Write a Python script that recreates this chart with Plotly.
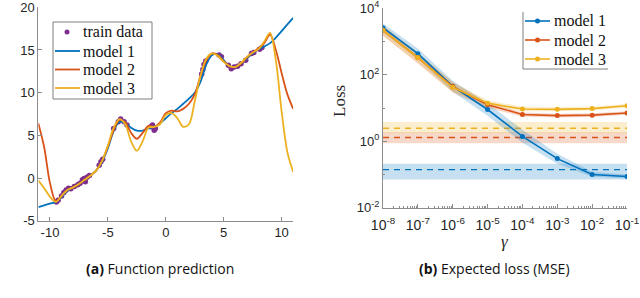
import plotly.graph_objects as go

# ---------------- Panel (a): function prediction ----------------
x_grid = [-11, -10.5, -10, -9.5, -9, -8.5, -8, -7.5, -7, -6.5, -6, -5.5, -5, -4.5, -4,
          -3.5, -3, -2.5, -2, -1.5, -1, -0.5, 0, 0.5, 1, 1.5, 2, 2.5, 3, 3.5, 4, 4.5,
          5, 5.5, 6, 6.5, 7, 7.5, 8, 8.5, 9, 9.5, 10, 10.5, 11]
model1_y = [-3.4, -3.2, -3.0, -2.8, -2.2, -1.5, -1.1, -0.7, -0.2, 0.3, 0.9, 1.9, 3.5, 5.5, 6.6,
            6.4, 5.9, 5.55, 5.55, 5.8, 6.0, 6.4, 7.0, 7.6, 8.1, 8.7, 9.3, 10.0, 11.3, 13.3, 14.4, 14.5,
            13.8, 13.1, 13.0, 13.4, 14.0, 14.6, 15.1, 15.4, 15.8, 16.45, 17.2, 18.0, 18.76]
model2_y = [6.4, 3.6, -0.6, -2.7, -2.1, -1.4, -1.1, -0.7, -0.2, 0.3, 0.9, 2.0, 3.7, 5.6, 6.8,
            6.5, 5.3, 4.6, 5.3, 6.1, 6.0, 6.5, 7.6, 7.9, 7.8, 8.1, 8.7, 9.8, 12.0, 13.8, 14.6, 14.4,
            13.7, 13.1, 13.0, 13.4, 14.1, 14.7, 15.2, 15.8, 16.8, 15.0, 12.3, 9.8, 8.1]
model3_y = [-0.3, -1.2, -2.2, -2.8, -2.1, -1.4, -1.1, -0.7, -0.2, 0.3, 0.9, 2.0, 3.8, 5.9, 6.9,
            6.3, 4.3, 3.2, 4.3, 5.9, 6.0, 6.3, 7.4, 7.6, 7.0, 6.0, 6.3, 9.0, 12.0, 14.0, 14.6, 14.3,
            13.6, 13.1, 13.0, 13.5, 14.2, 14.7, 15.1, 16.0, 17.0, 13.8, 7.8, 3.0, 0.7]
train_x = [-9.45, -9.3, -9.0, -8.8, -8.6, -8.4, -8.2, -7.9, -7.6, -7.4, -7.2, -7.05, -6.95, -6.8,
           -6.6, -5.75, -5.6, -5.45, -4.5, -4.1, -3.9, -3.6, -3.35, -1.3, -1.15, -1.0, -0.9,
           3.1, 3.2, 3.3, 3.45, 4.6, 4.8, 5.4, 5.65, 5.9, 6.2, 6.5, 6.9, 7.4, 7.6, 8.1, 8.3]
train_y = [-2.8, -2.6, -2.1, -1.7, -1.4, -1.2, -1.25, -1.0, -0.8, -0.6, -0.2, -0.05, -0.45, 0.1,
           0.3, 1.5, 1.9, 2.2, 5.8, 6.6, 6.9, 6.6, 6.2, 6.0, 6.2, 5.6, 5.8,
           12.2, 12.7, 13.3, 13.7, 14.4, 14.2, 13.2, 12.8, 13.0, 13.1, 13.4, 13.8, 14.6, 14.7, 15.1, 15.3]
xa_ticks = [-10, -5, 0, 5, 10]
ya_ticks = [-5, 0, 5, 10, 15, 20]

# ---------------- Panel (b): expected loss ----------------
gamma = [1e-8, 1e-7, 1e-6, 1e-5, 1e-4, 1e-3, 1e-2, 1e-1]
loss1 = [2600, 430, 45, 9.0, 1.4, 0.30, 0.10, 0.087]
loss1_lo = [1900, 300, 31, 5.8, 0.9, 0.21, 0.085, 0.075]
loss1_hi = [3500, 620, 66, 14, 2.2, 0.42, 0.12, 0.10]
loss2 = [2200, 330, 44, 12.5, 6.4, 5.9, 6.1, 7.1]
loss2_lo = [1500, 220, 30, 10.0, 5.5, 5.2, 5.4, 6.3]
loss2_hi = [3000, 450, 60, 15.0, 7.3, 6.7, 6.9, 8.0]
loss3 = [2200, 330, 42, 14.0, 9.3, 9.1, 9.6, 11.7]
loss3_lo = [1500, 230, 30, 11.0, 8.0, 8.0, 8.4, 10.3]
loss3_hi = [3000, 460, 60, 17.0, 11.0, 10.5, 11.0, 13.3]
ref_mean = [0.14, 1.3, 2.45]
ref_lo = [0.071, 0.87, 1.75]
ref_hi = [0.21, 1.85, 3.8]
names = ["model 1", "model 2", "model 3"]
gamma_ticks = [1e-8, 1e-7, 1e-6, 1e-5, 1e-4, 1e-3, 1e-2, 1e-1]
gamma_ticktext = ["10<sup>-8</sup>", "10<sup>-7</sup>", "10<sup>-6</sup>", "10<sup>-5</sup>",
                  "10<sup>-4</sup>", "10<sup>-3</sup>", "10<sup>-2</sup>", "10<sup>-1</sup>"]
loss_ticks = [1e-2, 1, 1e2, 1e4]
loss_ticktext = ["10<sup>-2</sup>", "10<sup>0</sup>", "10<sup>2</sup>", "10<sup>4</sup>"]

colors = ["#0072BD", "#D95319", "#EDB120"]
fills = ["rgba(0,114,189,0.22)", "rgba(217,83,25,0.22)", "rgba(237,177,32,0.22)"]
purple = "#7E2F8E"
axis_col = "#8c8c8c"
tick_font = dict(family="Liberation Sans", size=13, color="#262626")
serif = "Liberation Serif"

fig = go.Figure()

fig.add_trace(go.Scatter(x=train_x, y=train_y, mode="markers", name="train data",
                         marker=dict(color=purple, size=5.5), xaxis="x", yaxis="y"))
for nm, ys, c in zip(names, [model1_y, model2_y, model3_y], colors):
    fig.add_trace(go.Scatter(x=x_grid, y=ys, mode="lines", name=nm,
                             line=dict(color=c, width=1.8, shape="spline", smoothing=0.9),
                             xaxis="x", yaxis="y"))

# reference dashed bands
for i in range(3):
    fig.add_trace(go.Scatter(x=[gamma[0], gamma[-1], gamma[-1], gamma[0]],
                             y=[ref_lo[i], ref_lo[i], ref_hi[i], ref_hi[i]],
                             fill="toself", fillcolor=fills[i], line=dict(width=0),
                             mode="lines", hoverinfo="skip", xaxis="x2", yaxis="y2"))
    fig.add_trace(go.Scatter(x=[gamma[0], gamma[-1]], y=[ref_mean[i], ref_mean[i]],
                             mode="lines", line=dict(color=colors[i], width=1.4, dash="6px,5px"),
                             xaxis="x2", yaxis="y2"))

# curve bands
for lo, hi, f in zip([loss1_lo, loss2_lo, loss3_lo], [loss1_hi, loss2_hi, loss3_hi], fills):
    fig.add_trace(go.Scatter(x=gamma + gamma[::-1], y=hi + lo[::-1], fill="toself",
                             fillcolor=f, line=dict(width=0), mode="lines",
                             hoverinfo="skip", xaxis="x2", yaxis="y2"))
for nm, ys, c in zip(names, [loss1, loss2, loss3], colors):
    fig.add_trace(go.Scatter(x=gamma, y=ys, mode="lines+markers", name=nm,
                             line=dict(color=c, width=1.6), marker=dict(color=c, size=5),
                             xaxis="x2", yaxis="y2"))

W, H = 640, 298
def px(x): return x / W
def py(y): return 1 - y / H

minor_x = [m * 10 ** k for k in range(-8, -1) for m in range(2, 10)]
minor_y = [10 ** k for k in [-1, 1, 3]]

common = dict(ticks="inside", ticklen=4, tickcolor=axis_col, showline=True, linecolor=axis_col,
              linewidth=1, showgrid=False, zeroline=False, automargin=False,
              ticklabeloverflow="allow")

ann = dict(xref="paper", yref="paper", showarrow=False, xanchor="center", yanchor="middle")

# ---- hand-built legends (MATLAB-style compact boxes) ----
shapes = []
annotations = []
leg_font = dict(family=serif, size=16, color="#111")
# left legend
shapes.append(dict(type="rect", xref="paper", yref="paper", x0=px(53), x1=px(152), y0=py(99), y1=py(22),
                   line=dict(color="#7f7f7f", width=1), fillcolor="white"))
left_labels = ["train data"] + names
left_rows = [32, 51, 69.5, 88]
shapes.append(dict(type="circle", xref="paper", yref="paper", x0=px(64.5), x1=px(69.5),
                   y0=py(left_rows[0] + 2.5), y1=py(left_rows[0] - 2.5),
                   line=dict(width=0), fillcolor=purple))
for i, c in enumerate(colors):
    yy = left_rows[i + 1]
    shapes.append(dict(type="line", xref="paper", yref="paper", x0=px(55), x1=px(80),
                       y0=py(yy), y1=py(yy), line=dict(color=c, width=1.8)))
for lab, yy in zip(left_labels, left_rows):
    annotations.append(dict(text=lab, x=px(81), y=py(yy), xref="paper", yref="paper",
                            showarrow=False, xanchor="left", yanchor="middle", font=leg_font))
# right legend
shapes.append(dict(type="rect", xref="paper", yref="paper", x0=px(523), x1=px(608), y0=py(69), y1=py(12),
                   line=dict(width=0), fillcolor="white"))
shapes.append(dict(type="line", xref="paper", yref="paper", x0=px(523), x1=px(523), y0=py(69), y1=py(12),
                   line=dict(color="#7f7f7f", width=1)))
shapes.append(dict(type="line", xref="paper", yref="paper", x0=px(523), x1=px(608), y0=py(69), y1=py(69),
                   line=dict(color="#7f7f7f", width=1)))
right_rows = [21, 40, 59]
for nm, c, yy in zip(names, colors, right_rows):
    shapes.append(dict(type="line", xref="paper", yref="paper", x0=px(525), x1=px(550),
                       y0=py(yy), y1=py(yy), line=dict(color=c, width=1.6)))
    shapes.append(dict(type="circle", xref="paper", yref="paper", x0=px(535), x1=px(540),
                       y0=py(yy + 2.5), y1=py(yy - 2.5), line=dict(width=0), fillcolor=c))
    annotations.append(dict(text=nm, x=px(552), y=py(yy), xref="paper", yref="paper",
                            showarrow=False, xanchor="left", yanchor="middle", font=leg_font))

annotations += [
    dict(text="<b>(a)</b> Function prediction", x=px(160), y=py(268),
         font=dict(family="Open Sans", size=14, color="#111"), **ann),
    dict(text="<b>(b)</b> Expected loss (MSE)", x=px(494), y=py(268),
         font=dict(family="Open Sans", size=14, color="#111"), **ann),
    dict(text="<i>γ</i>", x=px(505), y=py(241),
         font=dict(family=serif, size=17, color="#262626"), **ann),
    dict(text="Loss", x=px(339), y=py(101), textangle=-90,
         font=dict(family=serif, size=17, color="#262626"), **ann),
]

fig.update_layout(
    width=W, height=H, margin=dict(l=0, r=0, t=0, b=0, autoexpand=False),
    paper_bgcolor="white", plot_bgcolor="white", showlegend=False,
    xaxis=dict(domain=[px(38.4), px(293.2)], range=[-11, 11], tickvals=xa_ticks,
               ticktext=[str(v) for v in xa_ticks], tickfont=tick_font, anchor="y",
               **common),
    yaxis=dict(domain=[py(220.7), py(7.3)], range=[-5, 20], tickvals=ya_ticks,
               ticktext=[str(v) for v in ya_ticks], tickfont=tick_font, anchor="x",
               **common),
    xaxis2=dict(domain=[px(383), px(627)], type="log", range=[-8, -1], tickmode="array",
                tickvals=gamma_ticks, ticktext=gamma_ticktext, tickfont=dict(tick_font, size=14),
                anchor="y2", ticklabelstandoff=4,
                minor=dict(tickmode="array", tickvals=minor_x, ticks="inside", ticklen=2,
                           tickcolor=axis_col, showgrid=False), **common),
    yaxis2=dict(domain=[py(207.7), py(8.3)], type="log", range=[-2, 4], tickmode="array",
                tickvals=loss_ticks, ticktext=loss_ticktext, tickfont=dict(tick_font, size=13),
                anchor="x2",
                minor=dict(tickmode="array", tickvals=minor_y, ticks="inside", ticklen=2,
                           tickcolor=axis_col, showgrid=False), **common),
    shapes=shapes,
    annotations=annotations,
)

fig.write_html("out.html", config={"displayModeBar": False},
               post_script="document.body.style.margin='0';document.body.style.padding='0';document.body.style.overflow='hidden';")
